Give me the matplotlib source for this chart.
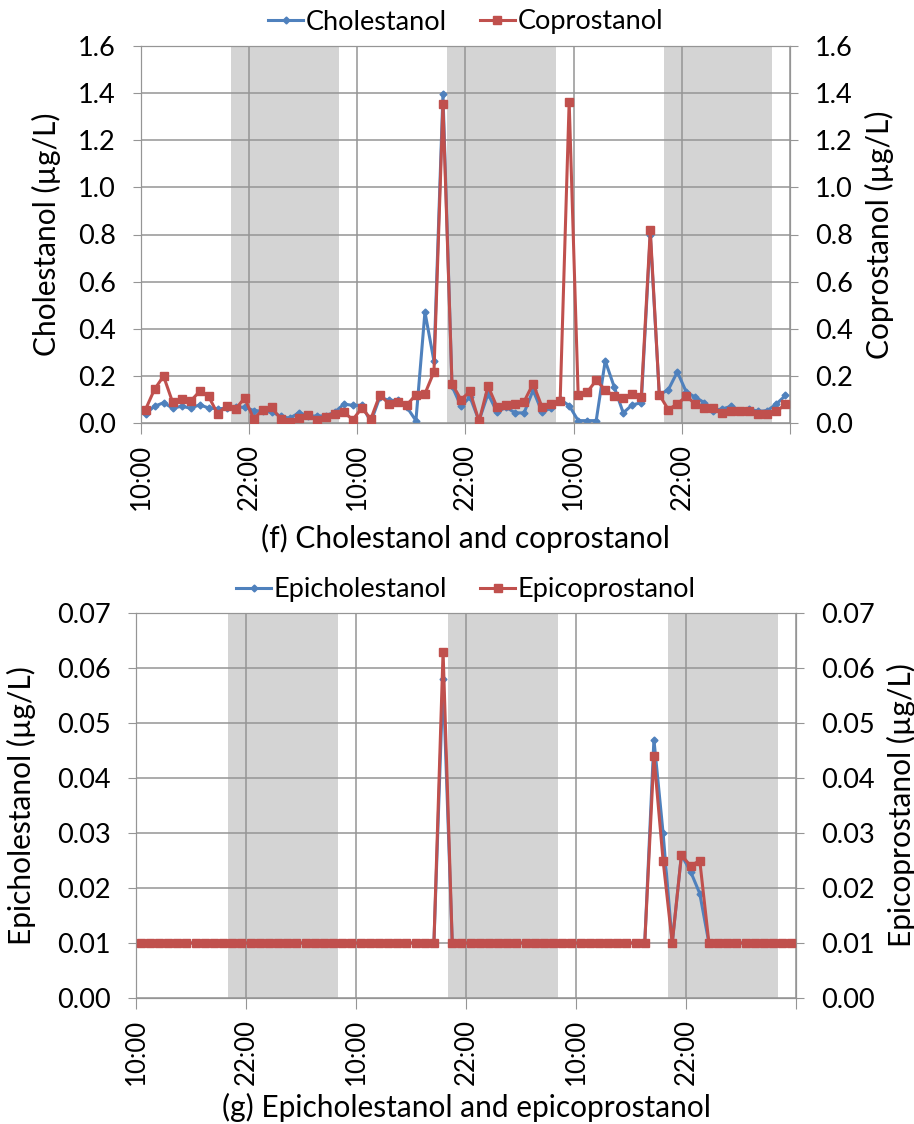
import numpy as np
import matplotlib
matplotlib.use("Agg")
import matplotlib.pyplot as plt

# Calibri-like look
plt.rcParams['font.family'] = ['Lato', 'DejaVu Sans']

# sampling time in hours after 10:00 on day 1 (hourly samples)
hours = np.arange(0.5, 72, 1.0)
tick_hours = [0, 12, 24, 36, 48, 60, 72]
tick_labels = ["10:00", "22:00", "10:00", "22:00", "10:00", "22:00", ""]
night_start = [10, 34, 58]
night_end = [22, 46, 70]

# (f) concentrations in ug/L
cholestanol = [0.039, 0.071, 0.086, 0.063, 0.071, 0.063, 0.077, 0.064, 0.060, 0.063,
               0.067, 0.067, 0.053, 0.050, 0.046, 0.029, 0.020, 0.043, 0.031, 0.029,
               0.031, 0.046, 0.080, 0.075, 0.075, 0.005, 0.110, 0.096, 0.096, 0.067,
               0.010, 0.471, 0.263, 1.396, 0.157, 0.071, 0.110, 0.010, 0.124, 0.046,
               0.067, 0.043, 0.043, 0.139, 0.046, 0.064, 0.100, 0.074, 0.010, 0.010,
               0.010, 0.264, 0.153, 0.043, 0.077, 0.086, 0.800, 0.120, 0.141, 0.217,
               0.131, 0.110, 0.086, 0.053, 0.060, 0.071, 0.053, 0.060, 0.049, 0.053,
               0.081, 0.117]
coprostanol = [0.057, 0.143, 0.199, 0.089, 0.100, 0.093, 0.134, 0.113, 0.039, 0.074,
               0.060, 0.106, 0.017, 0.056, 0.067, 0.017, 0.006, 0.020, 0.034, 0.014,
               0.027, 0.039, 0.046, 0.014, 0.064, 0.017, 0.120, 0.081, 0.091, 0.077,
               0.120, 0.124, 0.217, 1.353, 0.167, 0.099, 0.134, 0.007, 0.157, 0.067,
               0.077, 0.081, 0.091, 0.167, 0.067, 0.081, 0.093, 1.363, 0.117, 0.131,
               0.181, 0.141, 0.113, 0.107, 0.121, 0.110, 0.818, 0.120, 0.057, 0.081,
               0.113, 0.081, 0.064, 0.064, 0.041, 0.053, 0.053, 0.053, 0.039, 0.039,
               0.050, 0.079]

# (g) concentrations in ug/L
epicholestanol = [0.01, 0.01, 0.01, 0.01, 0.01, 0.01, 0.01, 0.01, 0.01, 0.01,
                  0.01, 0.01, 0.01, 0.01, 0.01, 0.01, 0.01, 0.01, 0.01, 0.01,
                  0.01, 0.01, 0.01, 0.01, 0.01, 0.01, 0.01, 0.01, 0.01, 0.01,
                  0.01, 0.01, 0.01, 0.058, 0.01, 0.01, 0.01, 0.01, 0.01, 0.01,
                  0.01, 0.01, 0.01, 0.01, 0.01, 0.01, 0.01, 0.01, 0.01, 0.01,
                  0.01, 0.01, 0.01, 0.01, 0.01, 0.01, 0.047, 0.030, 0.01, 0.026,
                  0.023, 0.019, 0.01, 0.01, 0.01, 0.01, 0.01, 0.01, 0.01, 0.01,
                  0.01, 0.01]
epicoprostanol = [0.01, 0.01, 0.01, 0.01, 0.01, 0.01, 0.01, 0.01, 0.01, 0.01,
                  0.01, 0.01, 0.01, 0.01, 0.01, 0.01, 0.01, 0.01, 0.01, 0.01,
                  0.01, 0.01, 0.01, 0.01, 0.01, 0.01, 0.01, 0.01, 0.01, 0.01,
                  0.01, 0.01, 0.01, 0.063, 0.01, 0.01, 0.01, 0.01, 0.01, 0.01,
                  0.01, 0.01, 0.01, 0.01, 0.01, 0.01, 0.01, 0.01, 0.01, 0.01,
                  0.01, 0.01, 0.01, 0.01, 0.01, 0.01, 0.044, 0.025, 0.01, 0.026,
                  0.024, 0.025, 0.01, 0.01, 0.01, 0.01, 0.01, 0.01, 0.01, 0.01,
                  0.01, 0.01]

BLUE = "#4F81BD"
RED = "#C0504D"
GRID = "#959595"
BAND = "#D4D4D4"
FS_TICK = 19.5
FS_XTICK = 18.5
FS_LABEL = 21.5
FS_LEGEND = 19.5

W, H = 914, 1124
fig = plt.figure(figsize=(W / 100, H / 100), dpi=100)


def px_rect(x0, y0, x1, y1):
    # pixel box -> figure fraction [left, bottom, width, height]
    return [x0 / W, 1 - y1 / H, (x1 - x0) / W, (y1 - y0) / H]


def draw_panel(rect, left_vals, right_vals, names, ymax, yticks, yfmt,
               ylabels, ylabel_x, title, title_y, legend_y):
    ax = fig.add_axes(px_rect(*rect))
    ax2 = ax.twinx()

    for s, e in zip(night_start, night_end):
        ax.axvspan(s, e, color=BAND, lw=0, zorder=0)

    l1, = ax.plot(hours, left_vals, color=BLUE, lw=2.2, marker="D", ms=3.5,
                  mec=BLUE, zorder=3, label=names[0])
    l2, = ax2.plot(hours, right_vals, color=RED, lw=2.2, marker="s", ms=6,
                   mec=RED, zorder=3, label=names[1])

    for a in (ax, ax2):
        a.set_xlim(0, 72)
        a.set_ylim(0, ymax)
        a.set_yticks(yticks)
        a.set_yticklabels([yfmt.format(v) for v in yticks])
        a.tick_params(axis="y", length=6, color=GRID, labelsize=FS_TICK, pad=12)
        for sp in a.spines.values():
            sp.set_color(GRID)
    ax.set_xticks(tick_hours)
    ax.set_xticklabels(tick_labels, rotation=90)
    ax.tick_params(axis="x", length=8, color=GRID, labelsize=FS_XTICK, pad=7)
    ax.set_axisbelow(True)
    ax.grid(True, color=GRID, lw=1.1)

    cy = (rect[1] + rect[3]) / 2
    fig.text(ylabel_x[0] / W, 1 - cy / H, ylabels[0], rotation=90,
             ha="center", va="center", fontsize=FS_LABEL)
    fig.text(ylabel_x[1] / W, 1 - cy / H, ylabels[1], rotation=90,
             ha="center", va="center", fontsize=FS_LABEL)

    cx = (rect[0] + rect[2]) / 2
    fig.text(cx / W, 1 - title_y / H, title, ha="center", va="center",
             fontsize=FS_LABEL)
    fig.legend(handles=[l1, l2], loc="center", ncol=2, frameon=False,
               bbox_to_anchor=(cx / W, 1 - legend_y / H), fontsize=FS_LEGEND,
               handlelength=1.3, handletextpad=0.1, columnspacing=1.2,
               borderaxespad=0)


draw_panel((141, 46, 790, 423), cholestanol, coprostanol,
           ["Cholestanol", "Coprostanol"], 1.6,
           [0.0, 0.2, 0.4, 0.6, 0.8, 1.0, 1.2, 1.4, 1.6], "{:.1f}",
           ["Cholestanol (µg/L)", "Coprostanol (µg/L)"], (46, 879),
           "(f) Cholestanol and coprostanol", 538, 22)

draw_panel((136, 613, 796, 998), epicholestanol, epicoprostanol,
           ["Epicholestanol", "Epicoprostanol"], 0.07,
           [0.0, 0.01, 0.02, 0.03, 0.04, 0.05, 0.06, 0.07], "{:.2f}",
           ["Epicholestanol (µg/L)", "Epicoprostanol (µg/L)"], (21, 901),
           "(g) Epicholestanol and epicoprostanol", 1107, 590)

fig.savefig("out.png", dpi=100)
